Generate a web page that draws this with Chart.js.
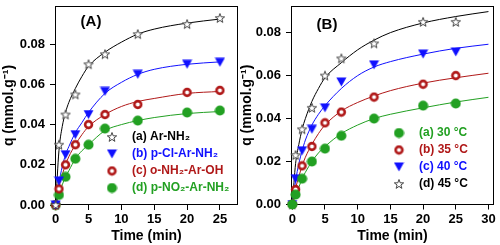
<!DOCTYPE html>
<html><head><meta charset="utf-8">
<script src="https://cdn.jsdelivr.net/npm/chart.js@4.4.0/dist/chart.umd.min.js"></script>
<style>
html,body{margin:0;padding:0;background:#fff;}
#wrap{position:relative;width:500px;height:245px;overflow:hidden;background:#fff;}
canvas{position:absolute;top:0;}
</style>
</head><body>
<div id="wrap">
<canvas id="cA" width="250" height="245" style="left:0px"></canvas>
<canvas id="cB" width="262" height="245" style="left:238px"></canvas>
</div>
<script>
// ---------- Panel A data ----------
const timeA = [0, 0.5, 1.5, 3, 5, 7.5, 12.5, 20, 25];
const qArNH2 = [0, 0.030, 0.045, 0.055, 0.070, 0.075, 0.085, 0.090, 0.093];
const qClArNH2 = [0, 0.012, 0.025, 0.035, 0.045, 0.0565, 0.065, 0.070, 0.071];
const qNH2ArOH = [0, 0.008, 0.020, 0.030, 0.040, 0.045, 0.050, 0.056, 0.057];
const qNO2ArNH2 = [0, 0.005, 0.014, 0.023, 0.030, 0.038, 0.042, 0.046, 0.047];
// fitted curves
const fitTimeA = [0, 0.5, 1, 1.5, 2, 3, 4, 5, 7.5, 10, 12.5, 15, 20, 25];
const fitArNH2 = [0, 0.027, 0.039, 0.046, 0.051, 0.058, 0.064, 0.069, 0.076, 0.081, 0.085, 0.0875, 0.0905, 0.0925];
const fitClArNH2 = [0, 0.011, 0.019, 0.025, 0.029, 0.036, 0.041, 0.046, 0.0555, 0.061, 0.065, 0.0675, 0.070, 0.0712];
const fitNH2ArOH = [0, 0.009, 0.015, 0.020, 0.024, 0.030, 0.035, 0.039, 0.045, 0.049, 0.0515, 0.053, 0.0555, 0.0565];
const fitNO2ArNH2 = [0, 0.005, 0.010, 0.014, 0.017, 0.023, 0.027, 0.030, 0.037, 0.040, 0.042, 0.0435, 0.0455, 0.0465];
const labelsA = ['(a) Ar-NH\u2082', '(b) p-Cl-Ar-NH\u2082', '(c) o-NH\u2082-Ar-OH', '(d) p-NO\u2082-Ar-NH\u2082'];

// ---------- Panel B data ----------
const timeB = [0, 0.5, 1.5, 3, 5, 7.5, 12.5, 20, 25];
const q30 = [0, 0.0046, 0.012, 0.020, 0.026, 0.032, 0.040, 0.046, 0.047];
const q35 = [0, 0.007, 0.018, 0.027, 0.038, 0.043, 0.050, 0.056, 0.060];
const q40 = [0, 0.012, 0.025, 0.035, 0.045, 0.057, 0.065, 0.070, 0.071];
const q45 = [0, 0.023, 0.035, 0.045, 0.060, 0.068, 0.075, 0.085, 0.085];
const fitTimeB = [0, 0.5, 1, 1.5, 2, 3, 4, 5, 7.5, 10, 12.5, 15, 20, 25, 30];
const fit30 = [0, 0.004, 0.008, 0.012, 0.015, 0.020, 0.024, 0.027, 0.033, 0.037, 0.040, 0.042, 0.045, 0.0477, 0.0499];
const fit35 = [0, 0.0075, 0.013, 0.018, 0.022, 0.028, 0.033, 0.037, 0.0435, 0.0475, 0.0505, 0.053, 0.0565, 0.059, 0.0611];
const fit40 = [0, 0.011, 0.019, 0.025, 0.030, 0.037, 0.042, 0.046, 0.054, 0.060, 0.064, 0.0665, 0.070, 0.0727, 0.0746];
const fit45 = [0, 0.019, 0.028, 0.035, 0.040, 0.048, 0.054, 0.059, 0.066, 0.072, 0.0765, 0.080, 0.0845, 0.0875, 0.0898];
const labelsB = ['(a) 30 \u00B0C', '(b) 35 \u00B0C', '(c) 40 \u00B0C', '(d) 45 \u00B0C'];

const yTicks = [0, 0.02, 0.04, 0.06, 0.08];

// ---------- styles ----------
const FONT = "'Liberation Sans', Arial, sans-serif";
const BLACK = '#000000', BLUE = '#1010FF', RED = '#B01818', GREEN = '#22A022';

function mk(w, h, draw) { const c = document.createElement('canvas'); c.width = w; c.height = h; draw(c.getContext('2d'), w / 2, h / 2); return c; }
const starImg = mk(12, 12, (g, cx, cy) => {
  g.beginPath();
  for (let i = 0; i < 10; i++) { const r = i % 2 ? 2.0 : 4.9; const a = -Math.PI / 2 + i * Math.PI / 5; g.lineTo(cx + r * Math.cos(a), cy + 0.4 + r * Math.sin(a)); }
  g.closePath(); g.fillStyle = '#fff'; g.fill(); g.strokeStyle = '#444'; g.lineWidth = 1; g.stroke();
});
const ringImg = mk(11, 11, (g, cx, cy) => { g.beginPath(); g.arc(cx, cy, 3.4, 0, 2 * Math.PI); g.fillStyle = '#fff'; g.fill(); g.lineWidth = 2.6; g.strokeStyle = RED; g.stroke(); });
const dotImg = mk(11, 11, (g, cx, cy) => { g.beginPath(); g.arc(cx, cy, 5, 0, 2 * Math.PI); g.fillStyle = GREEN; g.fill(); });
const triImg = mk(11, 10, (g) => { g.beginPath(); g.moveTo(0.5, 0.5); g.lineTo(10.5, 0.5); g.lineTo(5.5, 9.5); g.closePath(); g.fillStyle = BLUE; g.fill(); });

const pts = (xs, ys) => xs.map((x, i) => ({ x: x, y: ys[i] }));

function markerSet(label, xs, ys, img, color) {
  return { type: 'scatter', label: label, data: pts(xs, ys), pointStyle: img, pointRadius: 5, borderColor: color, backgroundColor: color, legendColor: color, clip: false, order: 1 };
}
function fitSet(xs, ys, color) {
  return { type: 'line', label: '', data: pts(xs, ys), borderColor: color, borderWidth: 1, pointRadius: 0, cubicInterpolationMode: 'monotone', fill: false, order: 2 };
}

const framePlugin = {
  id: 'frame',
  beforeDatasetsDraw(chart) {
    const { ctx, chartArea: a } = chart;
    ctx.save(); ctx.strokeStyle = '#000'; ctx.lineWidth = 1;
    const l = Math.floor(a.left) + 0.5, t = Math.floor(a.top) + 0.5, r = Math.round(a.right) - 0.5, b = Math.round(a.bottom) - 0.5;
    ctx.strokeRect(l, t, r - l, b - t);
    ctx.restore();
  }
};
const panelLabel = {
  id: 'panelLabel',
  afterDraw(chart, args, opts) {
    const ctx = chart.ctx; ctx.save();
    ctx.font = 'bold 15px ' + FONT; ctx.fillStyle = '#000'; ctx.textAlign = 'center'; ctx.textBaseline = 'middle';
    ctx.fillText(opts.text, opts.x, opts.y); ctx.restore();
  }
};
const legendPos = {
  id: 'legendPos',
  afterLayout(chart, args, opts) { const l = chart.legend; if (!l) return; l.left = opts.x; l.top = opts.y; }
};

function makePanel(canvas, cfg) {
  return new Chart(canvas, {
    type: 'scatter',
    data: { datasets: cfg.datasets },
    plugins: [framePlugin, panelLabel, legendPos],
    options: {
      responsive: false, animation: false, devicePixelRatio: 1,
      layout: { padding: cfg.padding },
      plugins: {
        tooltip: { enabled: false },
        panelLabel: cfg.panelLabel,
        legendPos: cfg.legendPos,
        legend: {
          display: true, position: 'chartArea', align: 'start',
          labels: {
            usePointStyle: true, pointStyleWidth: 28, boxHeight: 12, padding: 5,
            font: { size: 12, weight: 'bold', family: FONT },
            generateLabels(chart) {
              const items = Chart.defaults.plugins.legend.labels.generateLabels(chart);
              return items.filter(it => chart.data.datasets[it.datasetIndex].legendColor)
                .map(it => { it.fontColor = chart.data.datasets[it.datasetIndex].legendColor; return it; });
            }
          }
        }
      },
      scales: {
        x: {
          type: 'linear', min: cfg.xmin, max: cfg.xmax,
          border: { display: false },
          grid: { display: true, drawOnChartArea: false, drawTicks: true, tickLength: 5, color: '#000', lineWidth: 1 },
          ticks: { stepSize: 5, includeBounds: false, padding: 2, color: '#000', font: { size: 13, weight: 'bold', family: FONT }, maxRotation: 0, callback: v => String(v) },
          title: { display: true, text: 'Time (min)', color: '#000', font: { size: 14, weight: 'bold', family: FONT }, padding: { top: 0, bottom: 0 } },
          afterFit(s) { s.height = cfg.xHeight; s.paddingLeft = 0; s.paddingRight = 0; }
        },
        y: {
          type: 'linear', min: 0, max: cfg.ymax,
          border: { display: false },
          grid: { display: true, drawOnChartArea: false, drawTicks: true, tickLength: 5, color: '#000', lineWidth: 1 },
          afterBuildTicks(s) { s.ticks = yTicks.map(v => ({ value: v })); },
          ticks: { padding: 5, color: '#000', font: { size: 13, weight: 'bold', family: FONT }, callback: v => Number(v).toFixed(2) },
          title: { display: true, text: 'q (mmol.g\u207B\u00B9)', color: '#000', font: { size: 14, weight: 'bold', family: FONT }, padding: { top: 1, bottom: 0 } },
          afterFit(s) { s.width = cfg.yWidth; s.paddingTop = 0; s.paddingBottom = 0; }
        }
      }
    }
  });
}

makePanel(document.getElementById('cA'), {
  datasets: [
    markerSet(labelsA[0], timeA, qArNH2, starImg, BLACK),
    markerSet(labelsA[1], timeA, qClArNH2, triImg, BLUE),
    markerSet(labelsA[2], timeA, qNH2ArOH, ringImg, RED),
    markerSet(labelsA[3], timeA, qNO2ArNH2, dotImg, GREEN),
    fitSet(fitTimeA, fitArNH2, BLACK),
    fitSet(fitTimeA, fitClArNH2, BLUE),
    fitSet(fitTimeA, fitNH2ArOH, RED),
    fitSet(fitTimeA, fitNO2ArNH2, GREEN)
  ],
  padding: { left: 0, top: 4, right: 12, bottom: 0 },
  xmin: -0.1, xmax: 27.75, ymax: 0.099, xHeight: 40, yWidth: 55,
  panelLabel: { text: '(A)', x: 91, y: 22 },
  legendPos: { x: 93, y: 126 }
});

makePanel(document.getElementById('cB'), {
  datasets: [
    markerSet(labelsB[0], timeB, q30, dotImg, GREEN),
    markerSet(labelsB[1], timeB, q35, ringImg, RED),
    markerSet(labelsB[2], timeB, q40, triImg, BLUE),
    markerSet(labelsB[3], timeB, q45, starImg, BLACK),
    fitSet(fitTimeB, fit30, GREEN),
    fitSet(fitTimeB, fit35, RED),
    fitSet(fitTimeB, fit40, BLUE),
    fitSet(fitTimeB, fit45, BLACK)
  ],
  padding: { left: 0, top: 4, right: 2, bottom: 0 },
  xmin: -0.2, xmax: 30.85, ymax: 0.0924, xHeight: 40.5, yWidth: 53,
  panelLabel: { text: '(B)', x: 89, y: 25 },
  legendPos: { x: 142, y: 122 }
});
</script>
</body></html>
